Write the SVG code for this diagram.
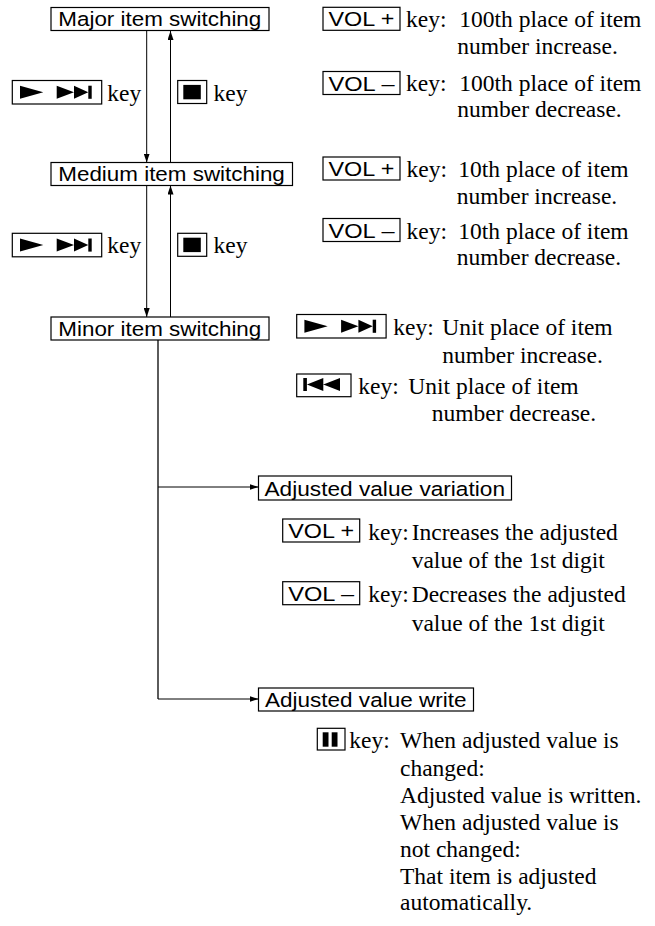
<svg xmlns="http://www.w3.org/2000/svg" width="655" height="926" viewBox="0 0 655 926">
<style>
.bg{fill:#fff}
.box{fill:#fff;stroke:#000;stroke-width:1.2}
.sans{font-family:"Liberation Sans",Arial,sans-serif;font-size:20.5px;fill:#000}
.serif{font-family:"Liberation Serif","Times New Roman",serif;font-size:23.5px;fill:#000}
.ln{stroke:#000;stroke-width:1;fill:none}
.trunk{stroke:#333;stroke-width:1.6;fill:none}
.sym{fill:#000}
</style>
<defs>
<marker id="ah" markerUnits="userSpaceOnUse" markerWidth="9" markerHeight="6" refX="9" refY="3" orient="auto">
<path d="M0,0 L9,3 L0,6 z" fill="#000"/>
</marker>
<g id="kffwd">
<rect class="box" x="0" y="0" width="89.4" height="23.5"/>
<path class="sym" d="M7.7,5.2 L31,11.75 L7.7,18.3 z M44.4,5.2 L61.7,11.75 L44.4,18.3 z M61.7,5.2 L76,11.75 L61.7,18.3 z"/>
<rect class="sym" x="76" y="5.2" width="3.4" height="13.1"/>
</g>
<g id="kstop">
<rect class="box" x="0" y="0" width="29" height="23"/>
<rect class="sym" x="5.6" y="4.4" width="17.5" height="14.4"/>
</g>
<g id="kvolp">
<rect class="box" x="0" y="0" width="77" height="23"/>
<text class="sans" x="5.5" y="19" textLength="66" lengthAdjust="spacingAndGlyphs">VOL +</text>
</g>
<g id="kvolm">
<rect class="box" x="0" y="0" width="77" height="23"/>
<text class="sans" x="5.5" y="19" textLength="66" lengthAdjust="spacingAndGlyphs">VOL –</text>
</g>
</defs>
<rect class="bg" x="0" y="0" width="655" height="926"/>

<g id="connectors">
<line class="ln" x1="146.7" y1="31" x2="146.7" y2="162.5" marker-end="url(#ah)"/>
<line class="ln" x1="170.5" y1="162.5" x2="170.5" y2="31" marker-end="url(#ah)"/>
<line class="ln" x1="146.7" y1="185.5" x2="146.7" y2="317" marker-end="url(#ah)"/>
<line class="ln" x1="170.5" y1="317" x2="170.5" y2="185.5" marker-end="url(#ah)"/>
<path class="trunk" d="M158,340 L158,699"/>
<line class="ln" x1="158" y1="487" x2="258.5" y2="487" marker-end="url(#ah)"/>
<line class="ln" x1="158" y1="699" x2="258.5" y2="699" marker-end="url(#ah)"/>
</g>

<g id="major">
<rect class="box" x="51" y="7.5" width="218" height="23"/>
<text class="sans" x="58.3" y="26.3" textLength="203" lengthAdjust="spacingAndGlyphs">Major item switching</text>
</g>
<g id="medium">
<rect class="box" x="51" y="162.5" width="241.5" height="23"/>
<text class="sans" x="58.3" y="181.3" textLength="226.5" lengthAdjust="spacingAndGlyphs">Medium item switching</text>
</g>
<g id="minor">
<rect class="box" x="51" y="317" width="218" height="23"/>
<text class="sans" x="58.3" y="335.8" textLength="203" lengthAdjust="spacingAndGlyphs">Minor item switching</text>
</g>
<g id="variation">
<rect class="box" x="258.5" y="476" width="253" height="24"/>
<text class="sans" x="264.5" y="495.8" textLength="240.5" lengthAdjust="spacingAndGlyphs">Adjusted value variation</text>
</g>
<g id="write">
<rect class="box" x="258.5" y="688" width="215" height="23"/>
<text class="sans" x="265" y="706.8" textLength="201.5" lengthAdjust="spacingAndGlyphs">Adjusted value write</text>
</g>

<g id="keys-major-medium">
<use href="#kffwd" x="12.3" y="80.5"/>
<text class="serif" x="107.3" y="100.5">key</text>
<use href="#kstop" x="177.7" y="80.5"/>
<text class="serif" x="213.5" y="100.5">key</text>
</g>
<g id="keys-medium-minor">
<use href="#kffwd" x="12.3" y="233.3"/>
<text class="serif" x="107.3" y="252.5">key</text>
<use href="#kstop" x="177.7" y="233.3"/>
<text class="serif" x="213.5" y="252.5">key</text>
</g>

<g id="notes-major">
<use href="#kvolp" x="323" y="7.3"/>
<text class="serif" x="406" y="27">key:</text>
<text class="serif" x="459.3" y="27">100th place of item</text>
<text class="serif" x="457.3" y="54">number increase.</text>
<use href="#kvolm" x="323" y="71.5"/>
<text class="serif" x="406" y="91">key:</text>
<text class="serif" x="459.3" y="91">100th place of item</text>
<text class="serif" x="457.3" y="117">number decrease.</text>
</g>

<g id="notes-medium">
<use href="#kvolp" x="323" y="157"/>
<text class="serif" x="406.5" y="177">key:</text>
<text class="serif" x="458.3" y="177">10th place of item</text>
<text class="serif" x="456.7" y="203.5">number increase.</text>
<use href="#kvolm" x="323" y="218.5"/>
<text class="serif" x="406.5" y="239">key:</text>
<text class="serif" x="458.3" y="239">10th place of item</text>
<text class="serif" x="456.7" y="265">number decrease.</text>
</g>

<g id="notes-minor">
<use href="#kffwd" x="296.7" y="314.5"/>
<text class="serif" x="393.3" y="335">key:</text>
<text class="serif" x="442.3" y="335">Unit place of item</text>
<text class="serif" x="442.3" y="363">number increase.</text>
<g>
<rect class="box" x="296.7" y="374" width="54.3" height="22.7"/>
<rect class="sym" x="303.3" y="378" width="3.6" height="13"/>
<path class="sym" d="M306.9,384.5 L323.3,378 L323.3,391 z M323.3,384.5 L340,378 L340,391 z"/>
</g>
<text class="serif" x="358.3" y="393.5">key:</text>
<text class="serif" x="408.3" y="393.5">Unit place of item</text>
<text class="serif" x="431.7" y="421">number decrease.</text>
</g>

<g id="notes-variation">
<use href="#kvolp" x="282.7" y="519"/>
<text class="serif" x="368.3" y="539.5">key:</text>
<text class="serif" x="411.7" y="539.5">Increases the adjusted</text>
<text class="serif" x="411.7" y="568">value of the 1st digit</text>
<use href="#kvolm" x="282.7" y="581.7"/>
<text class="serif" x="368.3" y="602">key:</text>
<text class="serif" x="411.7" y="602">Decreases the adjusted</text>
<text class="serif" x="411.7" y="631">value of the 1st digit</text>
</g>

<g id="notes-write">
<rect class="box" x="317.3" y="728.3" width="27.7" height="21.7"/>
<rect class="sym" x="322.7" y="732.3" width="5.8" height="14.4"/>
<rect class="sym" x="331.7" y="732.3" width="5.8" height="14.4"/>
<text class="serif" x="349.3" y="748">key:</text>
<text class="serif" x="400" y="748">When adjusted value is</text>
<text class="serif" x="400" y="776">changed:</text>
<text class="serif" x="400" y="803">Adjusted value is written.</text>
<text class="serif" x="400" y="830">When adjusted value is</text>
<text class="serif" x="400" y="857">not changed:</text>
<text class="serif" x="400" y="883.5">That item is adjusted</text>
<text class="serif" x="400" y="910">automatically.</text>
</g>
</svg>
